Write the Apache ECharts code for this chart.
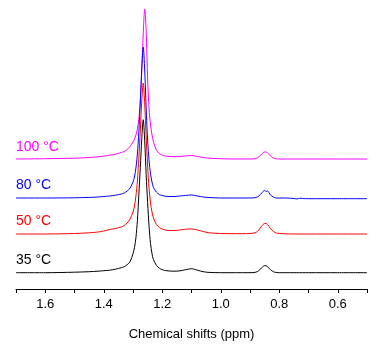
<!DOCTYPE html>
<html>
<head>
<meta charset="utf-8">
<script src="https://cdn.jsdelivr.net/npm/echarts@6/dist/echarts.min.js"></script>
<style>html,body{margin:0;padding:0;background:#fff;}#c{width:378px;height:348px;}</style>
</head>
<body>
<div id="c"></div>
<script>
// Chemical shift grid (ppm)
var shifts = [1.70, 1.60, 1.50, 1.45, 1.42, 1.40, 1.38, 1.36, 1.34, 1.33,
  1.32, 1.31, 1.30, 1.295, 1.29, 1.285, 1.28, 1.275, 1.27, 1.265,
  1.26, 1.255, 1.25, 1.245, 1.24, 1.235, 1.23, 1.22, 1.21, 1.20,
  1.19, 1.18, 1.16, 1.14, 1.12, 1.10, 1.08, 1.06, 1.04, 1.00,
  0.95, 0.90, 0.88, 0.87, 0.86, 0.85, 0.845, 0.84, 0.83, 0.82,
  0.81, 0.80, 0.78, 0.75, 0.74, 0.73, 0.72, 0.70, 0.60, 0.50];

// Intensities (arbitrary units) for each temperature
var int35 = [0, 0, 0.5, 1, 1.5, 2, 2.5, 3.5, 5, 6,
  8, 11, 19, 25, 35, 52, 78, 105, 134, 153,
  132, 98, 70, 46, 29, 19, 13, 7.5, 4.5, 3,
  2.2, 1.8, 1.5, 1.8, 3, 4, 2.5, 1, 0.3, 0,
  0, 0, 0.5, 2, 5, 7, 7, 6, 3, 1,
  0.2, 0, 0, 0, 0, 0, 0, 0, 0, 0];
var int50 = [0, 0, 0.5, 1.2, 2, 3, 4.5, 5.5, 7, 8.5,
  11, 15, 22, 28, 38, 53, 76, 104, 133, 151,
  130, 97, 68, 45, 31, 22, 16, 9.5, 6.5, 5,
  4, 3.5, 3.5, 4, 4.8, 5, 4, 2.5, 1.2, 0.5,
  0.3, 0.5, 1.5, 4, 8, 10.5, 10.5, 9.5, 5.5, 2.5,
  1, 0.5, 0.2, 0, 0, 0, 0, 0, 0, 0];
var int80 = [0, 0, 0.2, 0.6, 1, 1.5, 2, 2.8, 4, 5,
  7, 10, 16, 21, 30, 44, 66, 97, 130, 151,
  128, 90, 58, 37, 24, 16, 10.5, 6, 3.5, 2.5,
  1.8, 1.5, 1.5, 2, 2.6, 3, 2, 1, 0.5, 0,
  0, 0, 0.5, 2, 5, 7.5, 6.5, 7, 3, 1,
  0, 0, 0, -0.5, -1, -0.2, -0.5, -0.7, -0.7, -0.7];
var int100 = [0, 0.3, 0.8, 1.5, 2.2, 2.8, 3.8, 4.8, 6.5, 7.5,
  9.5, 12.5, 17, 20, 24, 30, 40, 58, 88, 125,
  150, 128, 80, 50, 34, 24, 17, 9, 5.5, 3.8,
  3, 2.6, 2.3, 2.5, 3, 3.5, 2.5, 1.5, 0.8, 0.3,
  0, 0, 0.5, 2, 5, 7, 7, 6.2, 3, 1,
  0.2, 0, 0, 0, 0, 0, 0, 0, 0, 0];

// Stacking offsets (vertical spacing of traces)
var offsets = [16.3, 55, 91, 130];
var labels = ['35 \u00B0C', '50 \u00B0C', '80 \u00B0C', '100 \u00B0C'];
var colors = ['#000000', '#ff0000', '#0000ff', '#ff00ff'];
var intensities = [int35, int50, int80, int100];
var xTicksMin = 0.5, xTicksMax = 1.7, xTickStep = 0.1;

var chart = echarts.init(document.getElementById('c'), null, {renderer: 'canvas'});

function build(i) {
  return shifts.map(function (s, k) { return [s, offsets[i] + intensities[i][k]]; });
}

var series = [];
[3, 2, 1, 0].forEach(function (i) {
  series.push({
    type: 'line', name: labels[i], data: build(i), showSymbol: false, symbol: 'none',
    smooth: 0.3, lineStyle: {color: colors[i], width: 1}, silent: true, animation: false, z: 10 - i
  });
});

var labelY = [260, 220.7, 185, 146.7];
var graphics = labels.map(function (t, i) {
  return {type: 'text', x: 16, y: labelY[i], silent: true,
    style: {text: t, fill: colors[i], font: '14px "Liberation Sans", Arial, sans-serif', verticalAlign: 'middle'}};
});

chart.setOption({
  animation: false,
  grid: {left: 16, right: 11, top: 0, bottom: 59, containLabel: false},
  xAxis: {
    type: 'value', inverse: true, min: xTicksMin, max: xTicksMax, interval: xTickStep,
    name: 'Chemical shifts (ppm)', nameLocation: 'middle', nameGap: 39,
    nameTextStyle: {fontFamily: 'Liberation Sans', fontSize: 13, color: '#000'},
    axisLine: {show: true, onZero: false, lineStyle: {color: '#000', width: 1}},
    axisTick: {show: true, length: 4, inside: false, lineStyle: {color: '#000', width: 1}},
    axisLabel: {fontFamily: 'Liberation Sans', fontSize: 13, color: '#000', margin: 9,
      formatter: function (v) { return (Math.round(v * 10) % 2 === 0) ? v.toFixed(1) : ''; }},
    splitLine: {show: false}
  },
  yAxis: {type: 'value', min: 0, max: 289, show: false},
  graphic: graphics,
  series: series
});
</script>
</body>
</html>
